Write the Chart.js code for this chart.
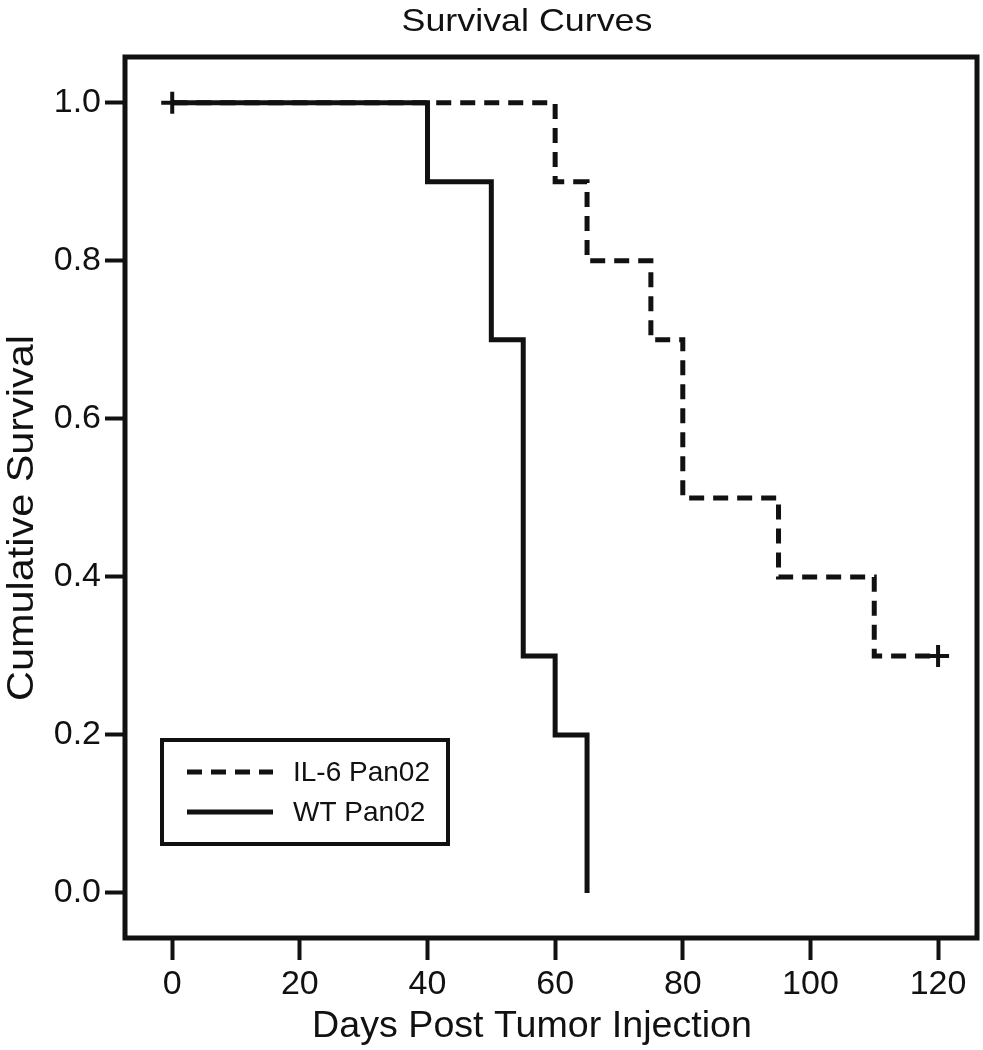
<!DOCTYPE html>
<html>
<head>
<meta charset="utf-8">
<title>Survival Curves</title>
<script src="https://cdn.jsdelivr.net/npm/chart.js@4.4.1/dist/chart.umd.min.js"></script>
<style>
    html, body { margin: 0; padding: 0; background: #fff; }
    #wrap { width: 983px; height: 1050px; }
</style>
</head>
<body>
<div id="wrap"><canvas id="survivalChart" width="983" height="1050"></canvas></div>
<script>
// Kaplan-Meier steps: day of each event and survival after it
const il6Days = [0, 60, 65, 75, 80, 95, 110, 120];
const il6Survival = [1.0, 0.9, 0.8, 0.7, 0.5, 0.4, 0.3, 0.3];
const wtDays = [0, 40, 50, 55, 60, 65];
const wtSurvival = [1.0, 0.9, 0.7, 0.3, 0.2, 0.0];

// censored observations (+ marks)
const censorDays = [0, 120];
const censorSurvival = [1.0, 0.3];

const seriesNames = ['IL-6 Pan02', 'WT Pan02'];
const xTickValues = [0, 20, 40, 60, 80, 100, 120];
const yTickValues = [0.0, 0.2, 0.4, 0.6, 0.8, 1.0];
const yTickLabels = ['0.0', '0.2', '0.4', '0.6', '0.8', '1.0'];

const chartTitle = 'Survival Curves';
const xTitle = 'Days Post Tumor Injection';
const yTitle = 'Cumulative Survival';

const ink = '#111';
const fontFamily = "'Liberation Sans', Arial, sans-serif";
Chart.defaults.font.family = fontFamily;
Chart.defaults.color = ink;

function toPoints(xs, ys) {
    return xs.map((x, i) => ({ x: x, y: ys[i] }));
}

// the original type is a bit wider than Arial, so titles get a small horizontal stretch
function stretchedText(ctx, text, x, y, size, stretch, angle) {
    ctx.save();
    ctx.translate(x, y);
    ctx.rotate(angle || 0);
    ctx.scale(stretch, 1);
    ctx.font = size + 'px ' + fontFamily;
    ctx.fillStyle = ink;
    ctx.textAlign = 'center';
    ctx.textBaseline = 'alphabetic';
    ctx.fillText(text, 0, 0);
    ctx.restore();
}

// Box around the plot area plus the titles
const framePlugin = {
    id: 'frame',
    afterDraw(chart) {
        const { ctx, chartArea } = chart;
        ctx.save();
        ctx.strokeStyle = ink;
        ctx.lineWidth = 5;
        ctx.strokeRect(chartArea.left, chartArea.top,
            chartArea.right - chartArea.left, chartArea.bottom - chartArea.top);
        ctx.restore();

        stretchedText(ctx, chartTitle, 527, 31, 32, 1.12);
        stretchedText(ctx, xTitle, 532, 1037, 36, 1.045);
        stretchedText(ctx, yTitle, 33, 518, 36, 1.15, -Math.PI / 2);
    }
};

// Legend box sitting inside the plot, lower left
const insideLegend = {
    id: 'insideLegend',
    afterDraw(chart) {
        const { ctx, chartArea } = chart;
        const bx = chartArea.left + 37;
        const by = chartArea.bottom - 198;
        const bw = 286, bh = 104;
        ctx.save();
        ctx.fillStyle = '#fff';
        ctx.fillRect(bx, by, bw, bh);
        ctx.strokeStyle = ink;
        ctx.lineWidth = 4;
        ctx.strokeRect(bx, by, bw, bh);

        ctx.font = '28px ' + fontFamily;
        ctx.textBaseline = 'middle';
        ctx.fillStyle = ink;
        [0, 1].forEach(i => {
            const ds = chart.data.datasets[i];
            const ly = by + 32 + i * 40;
            ctx.beginPath();
            ctx.setLineDash(ds.borderDash || []);
            ctx.lineWidth = ds.borderWidth;
            ctx.strokeStyle = ds.borderColor;
            ctx.moveTo(bx + 25, ly);
            ctx.lineTo(bx + 111, ly);
            ctx.stroke();
            ctx.setLineDash([]);
            ctx.fillText(ds.label, bx + 131, ly + 1);
        });
        ctx.restore();
    }
};

const ctx = document.getElementById('survivalChart').getContext('2d');
new Chart(ctx, {
    type: 'line',
    data: {
        datasets: [{
            label: seriesNames[0],
            data: toPoints(il6Days, il6Survival),
            stepped: 'before',
            borderColor: ink,
            borderWidth: 5,
            borderDash: [15, 9],
            pointRadius: 0,
            fill: false
        }, {
            label: seriesNames[1],
            data: toPoints(wtDays, wtSurvival),
            stepped: 'before',
            borderColor: ink,
            borderWidth: 5,
            pointRadius: 0,
            fill: false
        }, {
            label: 'Censored',
            data: toPoints(censorDays, censorSurvival),
            showLine: false,
            pointStyle: 'cross',
            pointRadius: 11,
            pointBorderWidth: 4,
            pointBorderColor: ink,
            pointBackgroundColor: ink
        }]
    },
    options: {
        responsive: false,
        animation: false,
        devicePixelRatio: 1,
        layout: {
            autoPadding: false,   // the big + markers would otherwise push the frame inwards
            padding: { left: 0, right: 6, top: 57, bottom: 0 }
        },
        scales: {
            x: {
                type: 'linear',
                min: -7.4,
                max: 126.1,
                afterBuildTicks: scale => { scale.ticks = xTickValues.map(v => ({ value: v })); },
                afterFit: scale => {
                    scale.height = 112;
                    scale.paddingLeft = 0;
                    scale.paddingRight = 0;
                },
                border: { display: false },
                grid: { drawOnChartArea: false, drawTicks: true, tickLength: 22, tickWidth: 4, tickColor: ink },
                ticks: { font: { size: 34 }, padding: 4, maxRotation: 0, color: ink }
            },
            y: {
                type: 'linear',
                min: -0.057,
                max: 1.058,
                afterBuildTicks: scale => { scale.ticks = yTickValues.map(v => ({ value: v })); },
                afterFit: scale => {
                    scale.width = 125;
                    scale.paddingTop = 0;
                    scale.paddingBottom = 0;
                },
                border: { display: false },
                grid: { drawOnChartArea: false, drawTicks: true, tickLength: 20, tickWidth: 4, tickColor: ink },
                ticks: {
                    font: { size: 34 },
                    padding: 4,
                    color: ink,
                    callback: (value, index) => yTickLabels[index]
                }
            }
        },
        plugins: {
            legend: { display: false },
            tooltip: { enabled: false },
            title: { display: false }
        }
    },
    plugins: [framePlugin, insideLegend]
});
</script>
</body>
</html>
